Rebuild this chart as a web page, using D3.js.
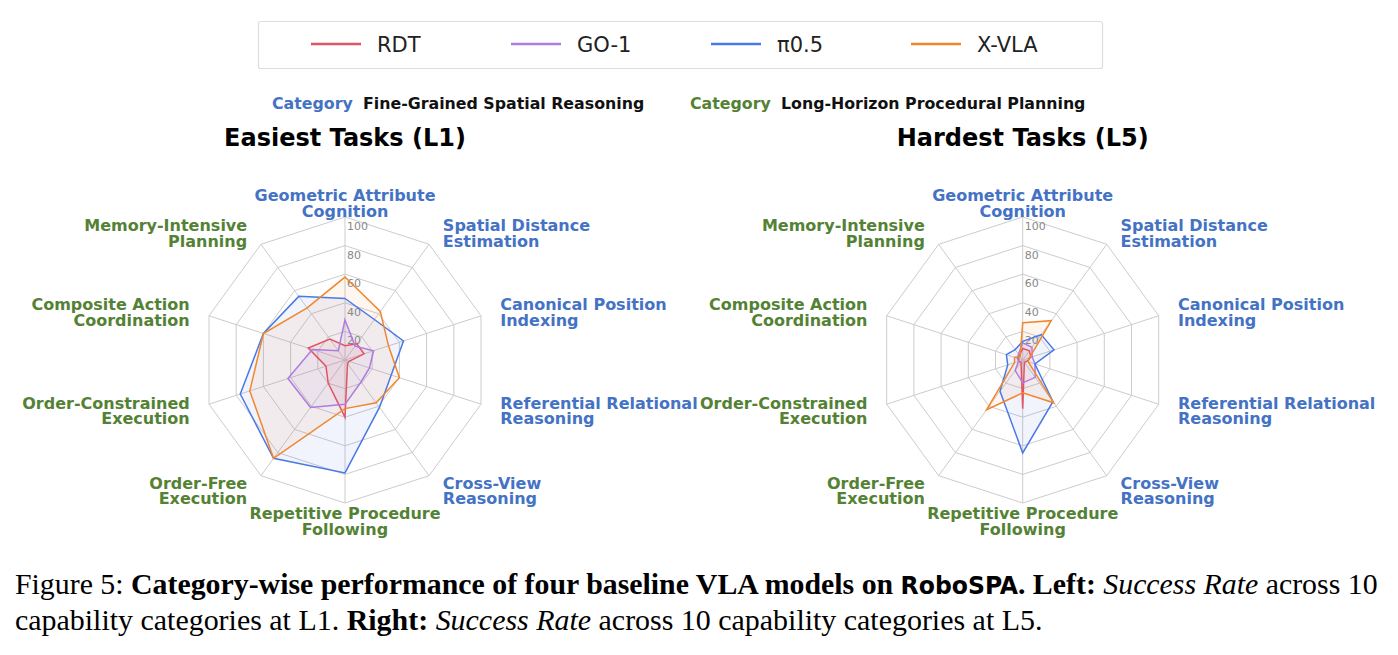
<!DOCTYPE html>
<html>
<head>
<meta charset="utf-8">
<script src="https://cdn.jsdelivr.net/npm/d3@7"></script>
<style>
  html, body { margin: 0; padding: 0; background: #fff; }
  svg { display: block; }
</style>
</head>
<body>
<svg id="chart" width="1398" height="655"></svg>
<script>
// ---------------- DATA ----------------
const categories = [
  "Geometric Attribute\nCognition",
  "Spatial Distance\nEstimation",
  "Canonical Position\nIndexing",
  "Referential Relational\nReasoning",
  "Cross-View\nReasoning",
  "Repetitive Procedure\nFollowing",
  "Order-Free\nExecution",
  "Order-Constrained\nExecution",
  "Composite Action\nCoordination",
  "Memory-Intensive\nPlanning"
];
const categoryGroup = ["spatial","spatial","spatial","spatial","spatial",
                       "procedural","procedural","procedural","procedural","procedural"];
const groupNames = ["Fine-Grained Spatial Reasoning", "Long-Horizon Procedural Planning"];
const models = ["RDT", "GO-1", "π0.5", "X-VLA"];
const modelColors = ["#E05563", "#AE7BE0", "#4A78E6", "#F0872D"];

// Easiest tasks (L1)
const rdtL1  = [10, 14, 14, 3, 3, 40, 20, 14, 27, 18];
const go1L1  = [28, 12, 21, 18, 19, 31, 41, 42, 24, 8];
const pi05L1 = [43, 35, 43, 34, 41, 79, 85, 77, 60, 55];
const xvlaL1 = [58, 42, 32, 40, 37, 34, 85, 70, 60, 45];

// Hardest tasks (L5)
const rdtL5  = [8, 8, 6, 3, 2, 34, 2, 3, 3, 4];
const go1L5  = [12, 11, 7, 9, 15, 16, 9, 3, 4, 5];
const pi05L5 = [13, 22, 23, 9, 36, 65, 27, 11, 12, 9];
const xvlaL5 = [26, 34, 5, 4, 37, 23, 43, 6, 6, 3];

const radialTicks = [20, 40, 60, 80, 100];
const panelTitles = ["Easiest Tasks (L1)", "Hardest Tasks (L5)"];

// ---------------- STYLE ----------------
const groupColor = { spatial: "#4472C4", procedural: "#548235" };
const labelFont = "'DejaVu Sans', sans-serif";

const svg = d3.select("#chart");

// Legend
const legendG = svg.append("g");
legendG.append("rect")
  .attr("x", 258.5).attr("y", 21.5).attr("width", 844).attr("height", 47)
  .attr("rx", 2).attr("fill", "#fff").attr("stroke", "#dddddd").attr("stroke-width", 1.2);
const legendX = d3.scalePoint().domain(models).range([311, 911]);
models.forEach((m, i) => {
  const x0 = legendX(m);
  legendG.append("line")
    .attr("x1", x0).attr("x2", x0 + 50).attr("y1", 44).attr("y2", 44)
    .attr("stroke", modelColors[i]).attr("stroke-width", 2.5);
  legendG.append("text")
    .attr("x", x0 + 66).attr("y", 51.5)
    .attr("font-family", labelFont).attr("font-size", 21)
    .attr("fill", "#222").text(m);
});

// Category header
const header = svg.append("text")
  .attr("y", 108.5)
  .attr("font-family", labelFont).attr("font-size", 15.8).attr("font-weight", "bold");
header.append("tspan").attr("x", 272).attr("fill", groupColor.spatial).text("Category");
header.append("tspan").attr("x", 363).attr("fill", "#111").text(groupNames[0]);
header.append("tspan").attr("x", 690).attr("fill", groupColor.procedural).text("Category");
header.append("tspan").attr("x", 781).attr("fill", "#111").text(groupNames[1]);

// Radar panels
const R = 143;
const rScale = d3.scaleLinear().domain([0, 100]).range([0, R]);
const angle = d3.scaleLinear().domain([0, categories.length]).range([0, 2 * Math.PI]);

function pt(i, v) {
  const a = angle(i);
  return [rScale(v) * Math.sin(a), -rScale(v) * Math.cos(a)];
}

const panels = [
  { cx: 345, title: panelTitles[0], series: [rdtL1, go1L1, pi05L1, xvlaL1] },
  { cx: 1022.7, title: panelTitles[1], series: [rdtL5, go1L5, pi05L5, xvlaL5] }
];
const cy = 360;

panels.forEach(p => {
  svg.append("text")
    .attr("x", p.cx).attr("y", 146)
    .attr("text-anchor", "middle")
    .attr("font-family", labelFont).attr("font-size", 24).attr("font-weight", "bold")
    .attr("fill", "#000").text(p.title);

  const g = svg.append("g").attr("transform", `translate(${p.cx},${cy})`);
  const idx = d3.range(categories.length);

  radialTicks.forEach(t => {
    g.append("polygon")
      .attr("points", idx.map(i => pt(i, t).join(",")).join(" "))
      .attr("fill", "none").attr("stroke", "#cccccc").attr("stroke-width", 1);
  });
  idx.forEach(i => {
    const [x, y] = pt(i, 100);
    g.append("line").attr("x1", 0).attr("y1", 0).attr("x2", x).attr("y2", y)
      .attr("stroke", "#cccccc").attr("stroke-width", 1);
  });
  radialTicks.forEach(t => {
    g.append("text")
      .attr("x", 2).attr("y", -rScale(t) + 13)
      .attr("font-family", labelFont).attr("font-size", 11)
      .attr("fill", "#888").text(t);
  });

  const line = d3.lineRadial()
    .angle((d, i) => angle(i))
    .radius(d => rScale(d))
    .curve(d3.curveLinearClosed);

  p.series.forEach((s, k) => {
    g.append("path").attr("d", line(s))
      .attr("fill", modelColors[k]).attr("fill-opacity", 0.08).attr("stroke", "none");
  });
  p.series.forEach((s, k) => {
    g.append("path").attr("d", line(s))
      .attr("fill", "none").attr("stroke", modelColors[k]).attr("stroke-width", 1.5)
      .attr("stroke-linejoin", "miter");
  });

  const LR = 158;
  categories.forEach((c, i) => {
    const a = angle(i);
    const cosA = Math.cos(a);
    const ax = LR * Math.sin(a), ay = -LR * cosA;
    const sx = Math.sin(a);
    let anchor = "middle", dx = 0;
    if (sx > 0.1) { anchor = "start"; dx = 5; }
    else if (sx < -0.1) { anchor = "end"; dx = -5; }
    const lines = c.split("\n");
    const lh = 15.5;
    const extra = 1.5 + (cosA < 0 ? -2 * cosA : 0);
    const t = g.append("text")
      .attr("text-anchor", anchor)
      .attr("font-family", labelFont).attr("font-size", 16).attr("font-weight", "bold")
      .attr("fill", groupColor[categoryGroup[i]]);
    lines.forEach((ln, j) => {
      t.append("tspan")
        .attr("x", ax + dx)
        .attr("y", ay + (j - (lines.length - 1) / 2) * lh + 5.5 + extra)
        .text(ln);
    });
  });
});

// Caption
const capFont = "'Liberation Serif', 'Times New Roman', serif";
function caption(y, parts) {
  const t = svg.append("text").attr("x", 15).attr("y", y)
    .attr("font-family", capFont).attr("font-size", 28.5).attr("fill", "#000");
  parts.forEach(([txt, style]) => {
    const s = t.append("tspan").text(txt);
    if (style === "b") s.attr("font-weight", "bold");
    if (style === "i") s.attr("font-style", "italic");
    if (style === "sans") s.attr("font-family", "'Liberation Sans Narrow', 'DejaVu Sans Condensed', 'DejaVu Sans', sans-serif")
                          .attr("font-stretch", "condensed")
                          .attr("font-size", 25).attr("font-weight", "bold");
  });
  return t;
}
const cap1 = caption(594.5, [
  ["Figure 5: ", ""],
  ["Category-wise performance of four baseline VLA models on ", "b"],
  ["RoboSPA", "sans"],
  [". Left:", "b"],
  [" ", ""],
  ["Success Rate", "i"],
  [" across 10", ""]
]);
const cap2 = caption(630.5, [
  ["capability categories at L1. ", ""],
  ["Right:", "b"],
  [" ", ""],
  ["Success Rate", "i"],
  [" across 10 capability categories at L5.", ""]
]);
const k1 = 1363 / cap1.node().getComputedTextLength();
cap1.attr("transform", `translate(15,0) scale(${k1},1) translate(-15,0)`);
const k2 = 1028 / cap2.node().getComputedTextLength();
cap2.attr("transform", `translate(15,0) scale(${k2},1) translate(-15,0)`);
</script>
</body>
</html>
